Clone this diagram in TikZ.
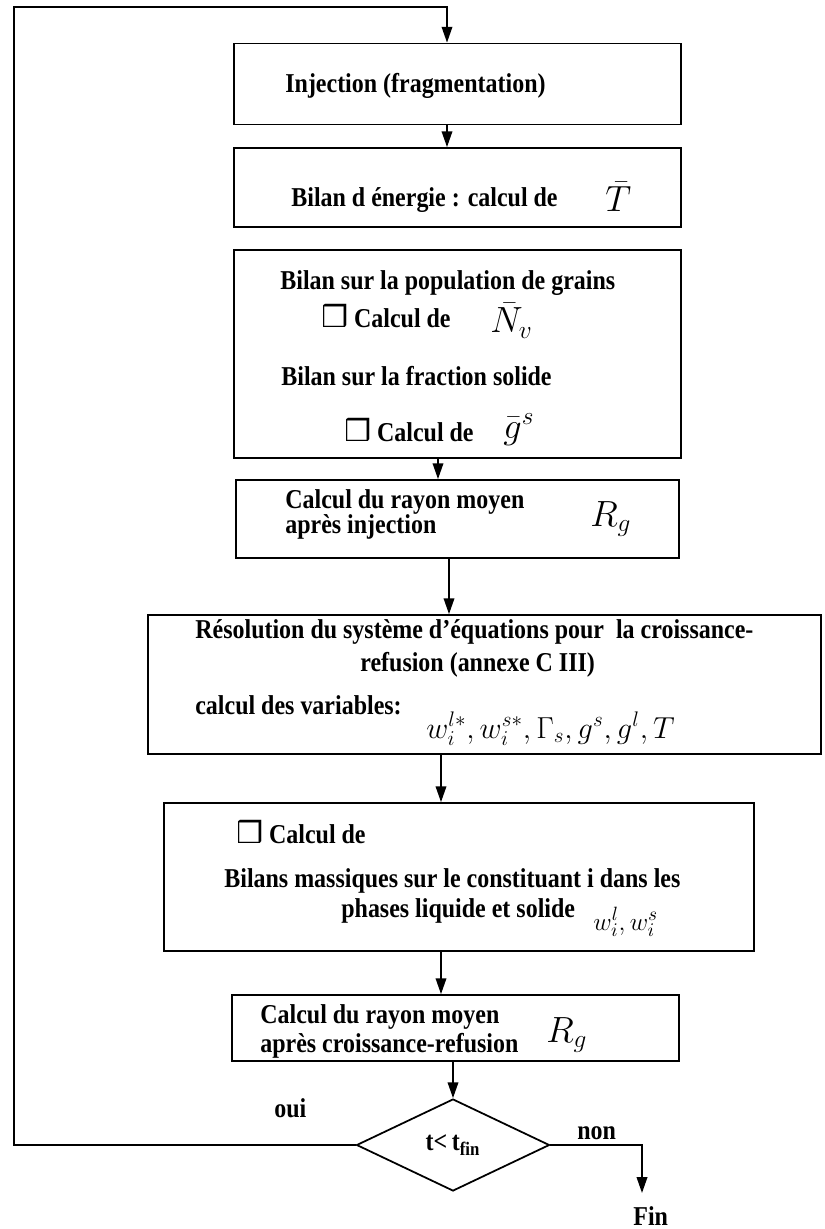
\documentclass[tikz,border=0pt]{standalone}
\usepackage{fontspec}
\setmainfont{Liberation Serif}[FakeStretch=0.88]
\newfontfamily\symfont{DejaVu Sans}
\usepackage{tikz}
\usetikzlibrary{shapes.geometric,arrows.meta}

\newcommand\sqbox{{\symfont\fontsize{17}{17}\selectfont ❒}}

\begin{document}
\begin{tikzpicture}[
  x=0.02cm, y=-0.02cm,
  >={Triangle[width=6pt,length=9pt]},
  box/.style={draw, line width=1pt, inner sep=0pt},
  test/.style={draw, diamond, line width=1pt, inner sep=0pt,
               minimum width=3.86cm, minimum height=1.84cm,
               font=\fontsize{15.5}{18}\selectfont\bfseries},
  txt/.style={anchor=base west, inner sep=0pt, font=\fontsize{15.5}{18}\selectfont\bfseries},
  mth/.style={anchor=base west, inner sep=0pt, font=\fontsize{20}{24}\selectfont},
  flow/.style={->, line width=1pt},
]
  \useasboundingbox (0,0) rectangle (824,1229);

  % Boxes
  \node[box, minimum width=8.94cm, minimum height=1.62cm] (inj) at (457.5,84) {};
  \node[box, minimum width=8.94cm, minimum height=1.58cm] (nrj) at (457.5,187.5) {};
  \node[box, minimum width=8.94cm, minimum height=4.16cm] (pop) at (457.5,354) {};
  \node[box, minimum width=8.86cm, minimum height=1.56cm] (ray1) at (457.5,519) {};
  \node[box, minimum width=13.46cm, minimum height=2.78cm] (reso) at (484.5,684.5) {};
  \node[box, minimum width=11.80cm, minimum height=2.96cm] (bil) at (459,877) {};
  \node[box, minimum width=8.94cm, minimum height=1.32cm] (ray2) at (455.5,1028) {};
  \node[test] (tfin) at (453,1145) {t<\,t\textsubscript{fin}};

  % Texts in the boxes
  \node[txt] (injt) at (285,93) {Injection (fragmentation)};
  \node[txt] (nrjt) at (291,207) {Bilan d énergie : calcul de};
  \node[mth] (nrjm) at (605,212) {$\bar{T}$};
  \node[txt] (popt) at (280,290) {Bilan sur la population de grains};
  \node[txt] (popc) at (321,328) {\sqbox\ Calcul de};
  \node[mth] (popm) at (490,333) {$\bar{N}_{v}$};
  \node[txt] (fract) at (281,385) {Bilan sur la fraction solide};
  \node[txt] (fracc) at (344,441) {\sqbox\ Calcul de};
  \node[mth] (fracm) at (503,438) {$\bar{g}^{s}$};
  \node[txt] (ray1t) at (285,508) {Calcul du rayon moyen};
  \node[txt] (ray1u) at (285,533) {après injection};
  \node[mth] (ray1m) at (590,526) {$R_{g}$};
  \node[txt] (resot) at (195,638) {Résolution du système d’équations pour ~la croissance-};
  \node[txt] (resou) at (360,671) {refusion (annexe C III)};
  \node[txt] (resov) at (195,714) {calcul des variables:};
  \node[mth, font=\fontsize{17}{20}\selectfont] (resom) at (426,738)
    {$w_{i}^{l*}, w_{i}^{s*}, \Gamma_{s}, g^{s}, g^{l}, T$};
  \node[txt] (bilc) at (236,843) {\sqbox\ Calcul de};
  \node[txt] (bilt) at (224,887) {Bilans massiques sur le constituant i dans les};
  \node[txt] (bilu) at (341,917) {phases liquide et solide};
  \node[mth, font=\fontsize{15}{18}\selectfont] (bilm) at (593,930) {$w_{i}^{l}, w_{i}^{s}$};
  \node[txt] (ray2t) at (260,1023) {Calcul du rayon moyen};
  \node[txt] (ray2u) at (260,1052) {après croissance-refusion};
  \node[mth] (ray2m) at (546,1042) {$R_{g}$};

  % Labels of the test
  \node[txt] (oui) at (274,1117) {oui};
  \node[txt] (non) at (577,1139) {non};
  \node[txt] (fin) at (633,1225) {Fin};
  \coordinate (corner) at (14,7);
  \coordinate (top) at (447,7);
  \coordinate (end) at (642,1193);

  % Arrows
  \draw[flow] (tfin.west) -| (corner) -- (top) -- (top |- inj.north);
  \draw[flow] (top |- inj.south) -- (top |- nrj.north);
  \draw[flow] (pop.south -| 438,0) -- (ray1.north -| 438,0);
  \draw[flow] (ray1.south -| 449,0) -- (reso.north -| 449,0);
  \draw[flow] (reso.south -| 441,0) -- (bil.north -| 441,0);
  \draw[flow] (bil.south -| 441,0) -- (ray2.north -| 441,0);
  \draw[flow] (ray2.south -| tfin.north) -- (tfin.north);
  \draw[flow] (tfin.east) -| (end);
\end{tikzpicture}
\end{document}
